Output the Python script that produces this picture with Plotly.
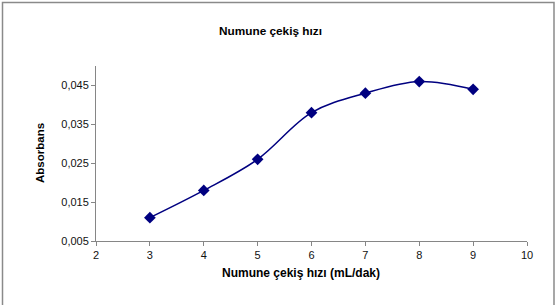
import plotly.graph_objects as go

x_vals = [3, 4, 5, 6, 7, 8, 9]
y_vals = [0.011, 0.018, 0.026, 0.038, 0.043, 0.046, 0.044]

title_text = "Numune çekiş hızı"
x_title = "Numune çekiş hızı (mL/dak)"
y_title = "Absorbans"

W, H = 558, 305
L, R, T, B = 96, 31, 66, 64
pw, ph = W - L - R, H - T - B

def px_x(p):
    return (p - L) / pw

def px_y(p):
    return (H - B - p) / ph

FONT = "Arial, Liberation Sans, sans-serif"
NAVY = "#000080"
AXC = "#868686"

fig = go.Figure()
fig.add_trace(go.Scatter(
    x=x_vals, y=y_vals, mode="lines+markers",
    line=dict(color=NAVY, width=1.5, shape="spline", smoothing=1),
    marker=dict(symbol="diamond", size=9, color=NAVY),
    showlegend=False,
))

fig.update_layout(
    width=W, height=H,
    margin=dict(l=L, r=R, t=T, b=B),
    paper_bgcolor="white", plot_bgcolor="white",
    separators=",.",
    font=dict(family=FONT, size=11, color="#000000"),
    xaxis=dict(range=[2, 10], tick0=2, dtick=1, ticks="outside", ticklen=4,
               tickcolor=AXC, showline=True, linecolor=AXC, linewidth=1,
               showgrid=False, zeroline=False,
               tickfont=dict(family=FONT, size=11, color="#111111")),
    yaxis=dict(range=[0.005, 0.05], tick0=0.005, dtick=0.01, tickformat=".3f",
               ticks="outside", ticklen=4, tickcolor=AXC, showline=True,
               linecolor=AXC, linewidth=1, showgrid=False, zeroline=False,
               tickfont=dict(family=FONT, size=11, color="#111111")),
    shapes=[dict(type="rect", xref="paper", yref="paper",
                 x0=px_x(2.5), x1=px_x(554), y0=px_y(312), y1=px_y(2.5),
                 line=dict(color="#8a8a8a", width=1.5), fillcolor="rgba(0,0,0,0)")],
    annotations=[
        dict(text="<b>" + title_text + "</b>", xref="paper", yref="paper",
             x=px_x(270), y=px_y(22), showarrow=False,
             font=dict(family=FONT, size=11.8, color="#000000")),
        dict(text="<b>" + x_title + "</b>", xref="paper", yref="paper",
             x=px_x(301), y=px_y(282), showarrow=False,
             font=dict(family=FONT, size=12, color="#000000")),
        dict(text="<b>" + y_title + "</b>", xref="paper", yref="paper",
             x=px_x(32), y=px_y(153), showarrow=False, textangle=-90,
             font=dict(family=FONT, size=11.5, color="#000000")),
    ],
)

fig.write_html("out.html")
